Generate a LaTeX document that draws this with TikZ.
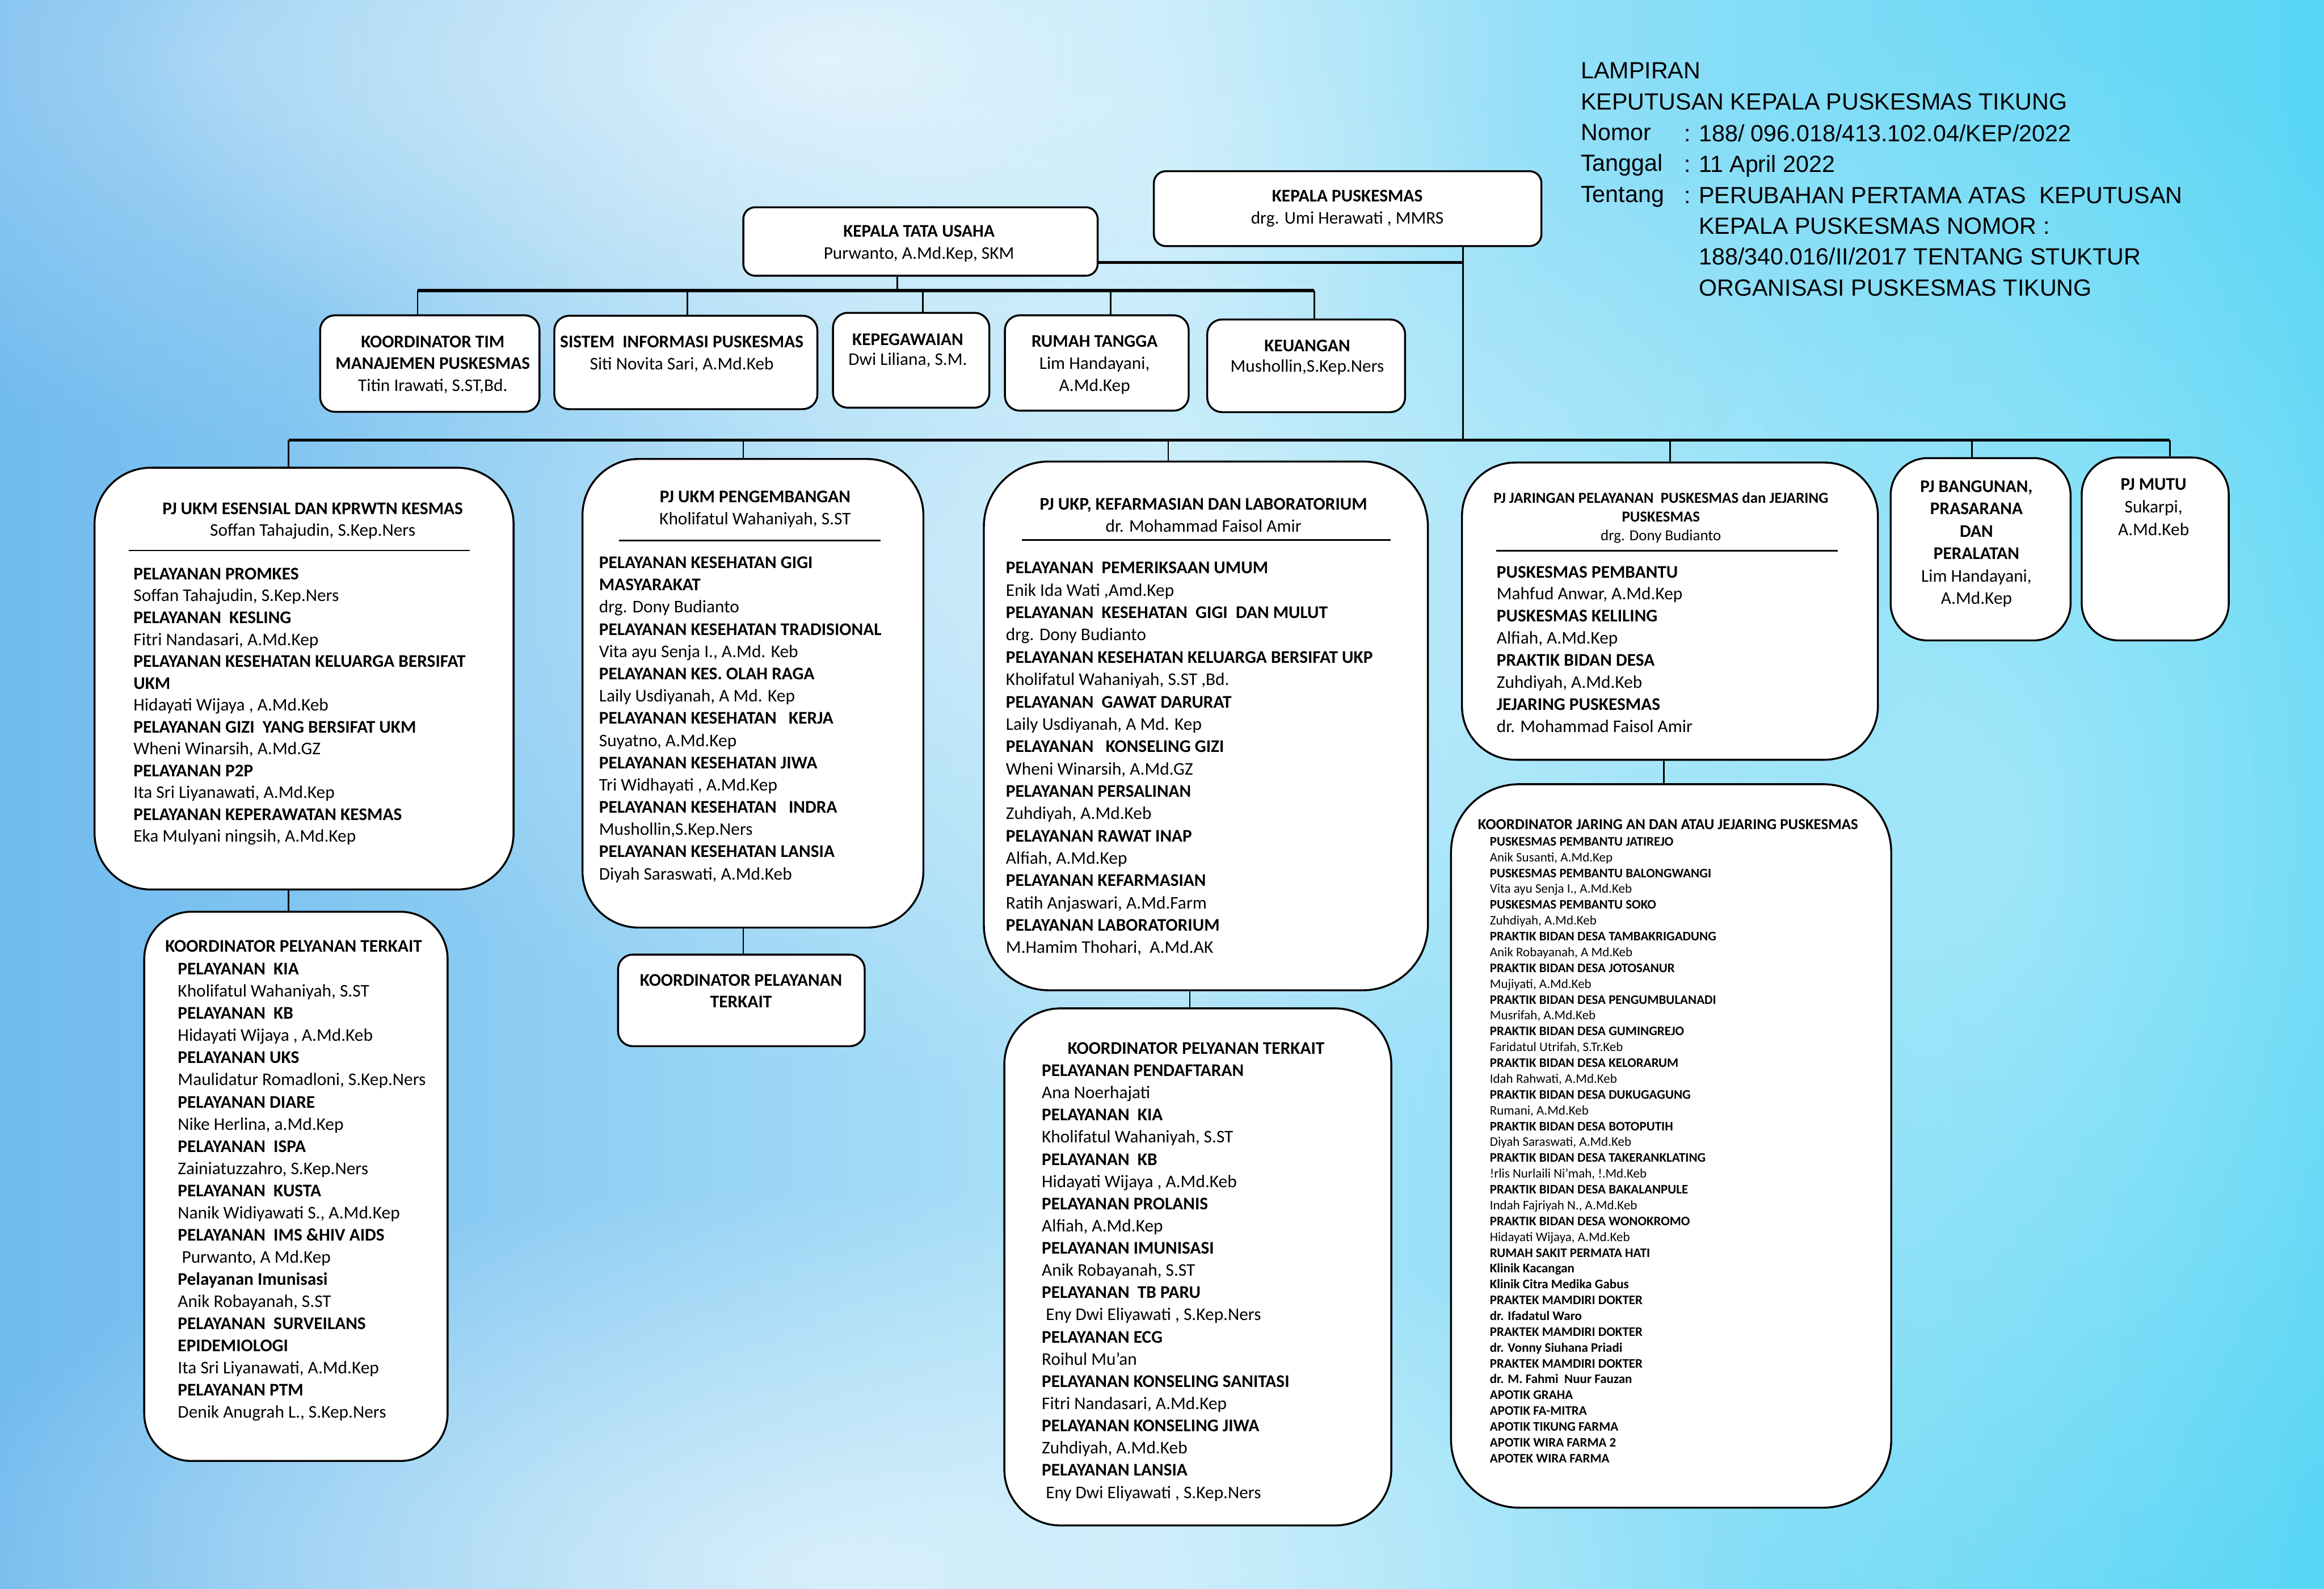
\documentclass[tikz,border=0pt]{standalone}
\usepackage{fontspec}
\setmainfont{Carlito}
\newfontfamily\arialf{Liberation Sans}
\usetikzlibrary{fadings}
\definecolor{bgL}{RGB}{112,186,238}
\definecolor{bgM}{RGB}{176,228,249}
\definecolor{bgR}{RGB}{88,214,245}
\tikzfading[name=glow, inner color=transparent!0, outer color=transparent!100]
\newcommand{\stk}[2]{\vtop{\baselineskip=#1\relax\lineskiplimit=-\maxdimen\lineskip=0pt\relax #2}}
\newcommand{\Lb}[1]{\hbox{\bfseries #1}}
\newcommand{\Ln}[1]{\hbox{#1}}
\newcommand{\Cb}[1]{\hbox to 0pt{\hss\bfseries #1\hss}}
\newcommand{\Cn}[1]{\hbox to 0pt{\hss #1\hss}}
\tikzset{
  bx/.style={draw=black, line width=1.3pt, fill=white, inner sep=0pt},
  tx/.style={inner sep=0pt, font=\fontsize{12}{15}\selectfont},
  txs/.style={inner sep=0pt, font=\fontsize{10.3}{12.5}\selectfont},
  txt/.style={inner sep=0pt, font=\fontsize{8.8}{10.67}\selectfont},
  hd/.style={inner sep=0pt, font=\arialf\fontsize{15.8}{20.8}\selectfont},
  conn/.style={draw=black, line width=1pt},
  bus/.style={draw=black, line width=2pt},
  rl/.style={draw=black, line width=1.1pt},
}
\begin{document}
\begin{tikzpicture}[x=1pt,y=-1pt]
\useasboundingbox (0,0) rectangle (1568,1071.5);
% background
\shade[left color=bgL, right color=bgR, middle color=bgM] (0,0) rectangle (1568,1071.5);
\fill[white, opacity=0.3, path fading=glow] (150,40) ellipse (420 and 260);
\fill[white, opacity=0.7, path fading=glow] (560,40) ellipse (480 and 260);
\fill[white, opacity=0.45, path fading=glow] (720,380) ellipse (560 and 360);
\fill[white, opacity=0.6, path fading=glow] (560,1060) ellipse (640 and 260);
\fill[white, opacity=0.35, path fading=glow] (1340,560) ellipse (420 and 560);

% boxes
\node[bx, rounded corners=8pt, minimum width=261.5pt, minimum height=50.5pt] (KP) at (909.25,140.75) {};
\node[bx, rounded corners=8pt, minimum width=239.1pt, minimum height=46.2pt] (KTU) at (621.05,162.9) {};
\node[bx, rounded corners=10pt, minimum width=148pt, minimum height=65.1pt] (S1) at (290,245.25) {};
\node[bx, rounded corners=10pt, minimum width=177.5pt, minimum height=63pt] (S2) at (462.75,244.5) {};
\node[bx, rounded corners=10pt, minimum width=105.5pt, minimum height=64pt] (S3) at (614.75,243) {};
\node[bx, rounded corners=10pt, minimum width=124pt, minimum height=64.3pt] (S4) at (740,244.85) {};
\node[bx, rounded corners=10pt, minimum width=133.5pt, minimum height=62.5pt] (S5) at (881.25,246.75) {};
\node[bx, rounded corners=38pt, minimum width=282.7pt, minimum height=284.5pt] (A) at (205.15,457.75) {};
\node[bx, rounded corners=32pt, minimum width=204.7pt, minimum height=370.5pt] (B) at (199.65,800.25) {};
\node[bx, rounded corners=38pt, minimum width=230pt, minimum height=316.1pt] (C) at (508,467.65) {};
\node[bx, rounded corners=10pt, minimum width=166.4pt, minimum height=61.8pt] (D) at (500.2,674.8) {};
\node[bx, rounded corners=44pt, minimum width=299.6pt, minimum height=356.7pt] (E) at (813.6,489.65) {};
\node[bx, rounded corners=38pt, minimum width=261.1pt, minimum height=348.8pt] (F) at (808.15,854.6) {};
\node[bx, rounded corners=36pt, minimum width=280.6pt, minimum height=200.5pt] (G) at (1126.7,412.25) {};
\node[bx, rounded corners=25pt, minimum width=121.4pt, minimum height=123pt] (H) at (1336.3,370.5) {};
\node[bx, rounded corners=25pt, minimum width=99.2pt, minimum height=123.4pt] (I) at (1454.1,370.3) {};
\node[bx, rounded corners=46pt, minimum width=297pt, minimum height=488pt] (J) at (1127.5,773) {};

% connector coordinates
\coordinate (kj) at (987,177);
\coordinate (mbT) at (987,297);
\coordinate (mbL) at (194.7,297);
\coordinate (mbR) at (1464,297);
\coordinate (bC) at (501.5,297);
\coordinate (bE) at (788.2,297);
\coordinate (bG) at (1126.7,297);
\coordinate (bH) at (1330.5,297);
\coordinate (sbL) at (281.7,196);
\coordinate (sbR) at (886.7,196);
\coordinate (sbK) at (605.4,196);
\coordinate (s2) at (463.7,196);
\coordinate (s3) at (622.7,196);
\coordinate (s4) at (749.4,196);
\coordinate (xEF) at (802.8,0);
\coordinate (xGJ) at (1122.6,0);

% connectors
\draw[conn] (KP.south -| mbT) -- (mbT);
\draw[bus] (KTU.east |- kj) -- (kj);
\draw[bus] (mbL) -- (mbR);
\draw[conn] (mbL) -- (A.north -| mbL);
\draw[conn] (bC) -- (C.north -| bC);
\draw[conn] (bE) -- (E.north -| bE);
\draw[conn] (bG) -- (G.north -| bG);
\draw[conn] (bH) -- (H.north -| bH);
\draw[conn] (mbR) -- (I.north -| mbR);
\draw[bus] (sbL) -- (sbR);
\draw[conn] (KTU.south -| sbK) -- (sbK);
\draw[conn] (sbL) -- (S1.north -| sbL);
\draw[conn] (s2) -- (S2.north -| s2);
\draw[conn] (s3) -- (S3.north -| s3);
\draw[conn] (s4) -- (S4.north -| s4);
\draw[conn] (sbR) -- (S5.north -| sbR);
\draw[conn] (A.south -| mbL) -- (B.north -| mbL);
\draw[conn] (C.south -| bC) -- (D.north -| bC);
\draw[conn] (E.south -| xEF) -- (F.north -| xEF);
\draw[conn] (G.south -| xGJ) -- (J.north -| xGJ);

% rules inside boxes
\draw[rl] (86.9,371.3) -- (317,371.3);
\draw[rl] (417.5,364.7) -- (594,364.7);
\draw[rl] (689.5,364.4) -- (938.2,364.4);
\draw[rl] (1009.6,371.4) -- (1240,371.4);

% header
\node[hd, anchor=base west] (hL) at (1066.4,53.2) {\stk{20.8pt}{\Ln{LAMPIRAN}\Ln{KEPUTUSAN KEPALA PUSKESMAS TIKUNG}\Ln{Nomor}\Ln{Tanggal}\Ln{Tentang}}};
\node[hd, anchor=base west] (hC) at (1136,95.5) {\stk{20.8pt}{\Ln{:}\Ln{:}\Ln{:}}};
\node[hd, anchor=base west] (hV) at (1146,95.5) {\stk{20.8pt}{\Ln{188/ 096.018/413.102.04/KEP/2022}\Ln{11 April 2022}\Ln{PERUBAHAN PERTAMA ATAS\ \ KEPUTUSAN}\Ln{KEPALA PUSKESMAS NOMOR :}\Ln{188/340.016/II/2017 TENTANG STUKTUR}\Ln{ORGANISASI PUSKESMAS TIKUNG}}};

% top texts
\node[tx, anchor=base] (tKP) at (909,136) {\stk{15pt}{\Cb{KEPALA PUSKESMAS}\Cn{drg. Umi Herawati , MMRS}}};
\node[tx, anchor=base] (tKTU) at (620,160) {\stk{14.7pt}{\Cb{KEPALA TATA USAHA}\Cn{Purwanto, A.Md.Kep, SKM}}};
\node[tx, anchor=base] (tS1) at (292,234.5) {\stk{14.7pt}{\Cb{KOORDINATOR TIM}\Cb{MANAJEMEN PUSKESMAS}\Cn{Titin Irawati, S.ST,Bd.}}};
\node[tx, anchor=base] (tS2) at (460,234.5) {\stk{15pt}{\Cb{SISTEM\ \ INFORMASI PUSKESMAS}\Cn{Siti Novita Sari, A.Md.Keb}}};
\node[tx, anchor=base] (tS3) at (612.5,233) {\stk{13.5pt}{\Cb{KEPEGAWAIAN}\Cn{Dwi Liliana, S.M.}}};
\node[tx, anchor=base] (tS4) at (738.5,234) {\stk{15pt}{\Cb{RUMAH TANGGA}\Cn{Lim Handayani,}\Cn{A.Md.Kep}}};
\node[tx, anchor=base] (tS5) at (882,237) {\stk{14pt}{\Cb{KEUANGAN}\Cn{Mushollin,S.Kep.Ners}}};

% box A
\node[tx, anchor=base] (tA) at (211,347) {\stk{14.6pt}{\Cb{PJ UKM ESENSIAL DAN KPRWTN KESMAS}\Cn{Soffan Tahajudin, S.Kep.Ners}}};
\node[tx, anchor=base west] (tAi) at (89.9,391) {\stk{14.75pt}{%
\Lb{PELAYANAN PROMKES}\Ln{Soffan Tahajudin, S.Kep.Ners}%
\Lb{PELAYANAN\ \ KESLING}\Ln{Fitri Nandasari, A.Md.Kep}%
\Lb{PELAYANAN KESEHATAN KELUARGA BERSIFAT}\Lb{UKM}\Ln{Hidayati Wijaya , A.Md.Keb}%
\Lb{PELAYANAN GIZI\ \ YANG BERSIFAT UKM}\Ln{Wheni Winarsih, A.Md.GZ}%
\Lb{PELAYANAN P2P}\Ln{Ita Sri Liyanawati, A.Md.Kep}%
\Lb{PELAYANAN KEPERAWATAN KESMAS}\Ln{Eka Mulyani ningsih, A.Md.Kep}}};

% box B
\node[tx, anchor=base west] (tB) at (111.3,642) {\stk{15pt}{\Lb{KOORDINATOR PELYANAN TERKAIT}}};
\node[tx, anchor=base west] (tBi) at (119.8,657.6) {\stk{14.94pt}{%
\Lb{PELAYANAN\ \ KIA}\Ln{Kholifatul Wahaniyah, S.ST}%
\Lb{PELAYANAN\ \ KB}\Ln{Hidayati Wijaya , A.Md.Keb}%
\Lb{PELAYANAN UKS}\Ln{Maulidatur Romadloni, S.Kep.Ners}%
\Lb{PELAYANAN DIARE}\Ln{Nike Herlina, a.Md.Kep}%
\Lb{PELAYANAN\ \ ISPA}\Ln{Zainiatuzzahro, S.Kep.Ners}%
\Lb{PELAYANAN\ \ KUSTA}\Ln{Nanik Widiyawati S., A.Md.Kep}%
\Lb{PELAYANAN\ \ IMS \&HIV AIDS}\Ln{\ Purwanto, A Md.Kep}%
\Lb{Pelayanan Imunisasi}\Ln{Anik Robayanah, S.ST}%
\Lb{PELAYANAN\ \ SURVEILANS}\Lb{EPIDEMIOLOGI}\Ln{Ita Sri Liyanawati, A.Md.Kep}%
\Lb{PELAYANAN PTM}\Ln{Denik Anugrah L., S.Kep.Ners}}};

% box C
\node[tx, anchor=base] (tC) at (509.5,339) {\stk{15pt}{\Cb{PJ UKM PENGEMBANGAN}\Cn{Kholifatul Wahaniyah, S.ST}}};
\node[tx, anchor=base west] (tCi) at (404,383.4) {\stk{15pt}{%
\Lb{PELAYANAN KESEHATAN GIGI}\Lb{MASYARAKAT}\Ln{drg. Dony Budianto}%
\Lb{PELAYANAN KESEHATAN TRADISIONAL}\Ln{Vita ayu Senja I., A.Md. Keb}%
\Lb{PELAYANAN KES. OLAH RAGA}\Ln{Laily Usdiyanah, A Md. Kep}%
\Lb{PELAYANAN KESEHATAN\ \ \ KERJA}\Ln{Suyatno, A.Md.Kep}%
\Lb{PELAYANAN KESEHATAN JIWA}\Ln{Tri Widhayati , A.Md.Kep}%
\Lb{PELAYANAN KESEHATAN\ \ \ INDRA}\Ln{Mushollin,S.Kep.Ners}%
\Lb{PELAYANAN KESEHATAN LANSIA}\Ln{Diyah Saraswati, A.Md.Keb}}};

% box D
\node[tx, anchor=base] (tD) at (500,665) {\stk{14.6pt}{\Cb{KOORDINATOR PELAYANAN}\Cb{TERKAIT}}};

% box E
\node[tx, anchor=base] (tE) at (812,344) {\stk{15pt}{\Cb{PJ UKP, KEFARMASIAN DAN LABORATORIUM}\Cn{dr. Mohammad Faisol Amir}}};
\node[tx, anchor=base west] (tEi) at (678.5,387) {\stk{15.06pt}{%
\Lb{PELAYANAN\ \ PEMERIKSAAN UMUM}\Ln{Enik Ida Wati ,Amd.Kep}%
\Lb{PELAYANAN\ \ KESEHATAN\ \ GIGI\ \ DAN MULUT}\Ln{drg. Dony Budianto}%
\Lb{PELAYANAN KESEHATAN KELUARGA BERSIFAT UKP}\Ln{Kholifatul Wahaniyah, S.ST ,Bd.}%
\Lb{PELAYANAN\ \ GAWAT DARURAT}\Ln{Laily Usdiyanah, A Md. Kep}%
\Lb{PELAYANAN\ \ \ KONSELING GIZI}\Ln{Wheni Winarsih, A.Md.GZ}%
\Lb{PELAYANAN PERSALINAN}\Ln{Zuhdiyah, A.Md.Keb}%
\Lb{PELAYANAN RAWAT INAP}\Ln{Alfiah, A.Md.Kep}%
\Lb{PELAYANAN KEFARMASIAN}\Ln{Ratih Anjaswari, A.Md.Farm}%
\Lb{PELAYANAN LABORATORIUM}\Ln{M.Hamim Thohari,\ \ A.Md.AK}}};

% box F
\node[tx, anchor=base] (tF) at (807,711) {\stk{15pt}{\Cb{KOORDINATOR PELYANAN TERKAIT}}};
\node[tx, anchor=base west] (tFi) at (702.7,726) {\stk{14.98pt}{%
\Lb{PELAYANAN PENDAFTARAN}\Ln{Ana Noerhajati}%
\Lb{PELAYANAN\ \ KIA}\Ln{Kholifatul Wahaniyah, S.ST}%
\Lb{PELAYANAN\ \ KB}\Ln{Hidayati Wijaya , A.Md.Keb}%
\Lb{PELAYANAN PROLANIS}\Ln{Alfiah, A.Md.Kep}%
\Lb{PELAYANAN IMUNISASI}\Ln{Anik Robayanah, S.ST}%
\Lb{PELAYANAN\ \ TB PARU}\Ln{\ Eny Dwi Eliyawati , S.Kep.Ners}%
\Lb{PELAYANAN ECG}\Ln{Roihul Mu’an}%
\Lb{PELAYANAN KONSELING SANITASI}\Ln{Fitri Nandasari, A.Md.Kep}%
\Lb{PELAYANAN KONSELING JIWA}\Ln{Zuhdiyah, A.Md.Keb}%
\Lb{PELAYANAN LANSIA}\Ln{\ Eny Dwi Eliyawati , S.Kep.Ners}}};

% box G
\node[txs, anchor=base] (tG) at (1120.6,339.4) {\stk{12.6pt}{\Cb{PJ JARINGAN PELAYANAN\ \ PUSKESMAS dan JEJARING}\Cb{PUSKESMAS}\Cn{drg. Dony Budianto}}};
\node[tx, anchor=base west] (tGi) at (1009.6,389.7) {\stk{14.9pt}{%
\Lb{PUSKESMAS PEMBANTU}\Ln{Mahfud Anwar, A.Md.Kep}%
\Lb{PUSKESMAS KELILING}\Ln{Alfiah, A.Md.Kep}%
\Lb{PRAKTIK BIDAN DESA}\Ln{Zuhdiyah, A.Md.Keb}%
\Lb{JEJARING PUSKESMAS}\Ln{dr. Mohammad Faisol Amir}}};

% boxes H, I
\node[tx, anchor=base] (tH) at (1333.5,332) {\stk{15.1pt}{\Cb{PJ BANGUNAN,}\Cb{PRASARANA}\Cb{DAN}\Cb{PERALATAN}\Cn{Lim Handayani,}\Cn{A.Md.Kep}}};
\node[tx, anchor=base] (tI) at (1453,330.5) {\stk{15.3pt}{\Cb{PJ MUTU}\Cn{Sukarpi,}\Cn{A.Md.Keb}}};

% box J
\node[txs, anchor=base west] (tJ) at (997,559.3) {\stk{12pt}{\Lb{KOORDINATOR JARING AN DAN ATAU JEJARING PUSKESMAS}}};
\node[txt, anchor=base west] (tJi) at (1005,570.5) {\stk{10.67pt}{%
\Lb{PUSKESMAS PEMBANTU JATIREJO}\Ln{Anik Susanti, A.Md.Kep}%
\Lb{PUSKESMAS PEMBANTU BALONGWANGI}\Ln{Vita ayu Senja I., A.Md.Keb}%
\Lb{PUSKESMAS PEMBANTU SOKO}\Ln{Zuhdiyah, A.Md.Keb}%
\Lb{PRAKTIK BIDAN DESA TAMBAKRIGADUNG}\Ln{Anik Robayanah, A Md.Keb}%
\Lb{PRAKTIK BIDAN DESA JOTOSANUR}\Ln{Mujiyati, A.Md.Keb}%
\Lb{PRAKTIK BIDAN DESA PENGUMBULANADI}\Ln{Musrifah, A.Md.Keb}%
\Lb{PRAKTIK BIDAN DESA GUMINGREJO}\Ln{Faridatul Utrifah, S.Tr.Keb}%
\Lb{PRAKTIK BIDAN DESA KELORARUM}\Ln{Idah Rahwati, A.Md.Keb}%
\Lb{PRAKTIK BIDAN DESA DUKUGAGUNG}\Ln{Rumani, A.Md.Keb}%
\Lb{PRAKTIK BIDAN DESA BOTOPUTIH}\Ln{Diyah Saraswati, A.Md.Keb}%
\Lb{PRAKTIK BIDAN DESA TAKERANKLATING}\Ln{!rlis Nurlaili Ni’mah, !.Md.Keb}%
\Lb{PRAKTIK BIDAN DESA BAKALANPULE}\Ln{Indah Fajriyah N., A.Md.Keb}%
\Lb{PRAKTIK BIDAN DESA WONOKROMO}\Ln{Hidayati Wijaya, A.Md.Keb}%
\Lb{RUMAH SAKIT PERMATA HATI}\Lb{Klinik Kacangan}\Lb{Klinik Citra Medika Gabus}%
\Lb{PRAKTEK MAMDIRI DOKTER}\Lb{dr. Ifadatul Waro}%
\Lb{PRAKTEK MAMDIRI DOKTER}\Lb{dr. Vonny Siuhana Priadi}%
\Lb{PRAKTEK MAMDIRI DOKTER}\Lb{dr. M. Fahmi\ \ Nuur Fauzan}%
\Lb{APOTIK GRAHA}\Lb{APOTIK FA-MITRA}\Lb{APOTIK TIKUNG FARMA}\Lb{APOTIK WIRA FARMA 2}\Lb{APOTEK WIRA FARMA}}};
\end{tikzpicture}
\end{document}
